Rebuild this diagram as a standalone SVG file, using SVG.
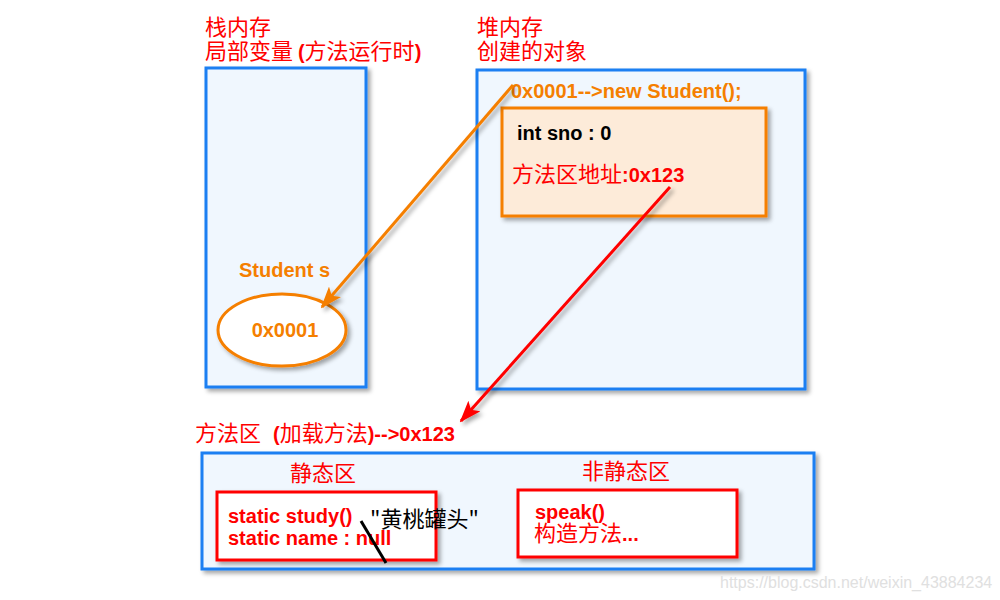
<svg xmlns="http://www.w3.org/2000/svg" width="1000" height="600" viewBox="0 0 1000 600">
<defs>
<filter id="sh" x="-10%" y="-10%" width="130%" height="130%">
<feDropShadow dx="3" dy="3" stdDeviation="2" flood-color="#000" flood-opacity="0.35"/>
</filter>
<marker id="ao" markerWidth="22" markerHeight="16" refX="20" refY="8" orient="auto" markerUnits="userSpaceOnUse">
<path d="M0,0 L22,8 L0,16 L5,8 Z" fill="#f57f00"/>
</marker>
<marker id="ar" markerWidth="22" markerHeight="16" refX="20" refY="8" orient="auto" markerUnits="userSpaceOnUse">
<path d="M0,0 L22,8 L0,16 L5,8 Z" fill="#ff0000"/>
</marker>
</defs>
<style>
.cn{font-family:"Noto Sans CJK SC","Liberation Sans",sans-serif;font-size:22px;}
.b{font-family:"Liberation Sans","Noto Sans CJK SC",sans-serif;font-weight:bold;font-size:20px;}
.red{fill:#ff0000;}
.org{fill:#f57f00;}
.blk{fill:#000;}
.area{fill:#f0f7fe;stroke:#1a7ff2;stroke-width:3;filter:url(#sh);}
.rbox{fill:#fff;stroke:#ff0000;stroke-width:3;filter:url(#sh);}
</style>
<rect width="1000" height="600" fill="#fff"/>

<g id="stack">
<text class="cn red" x="205" y="35">栈内存</text>
<text class="cn red" x="205" y="59">局部变量 <tspan class="b">(</tspan>方法运行时<tspan class="b">)</tspan></text>
<rect class="area" x="206" y="68" width="160" height="319"/>
<text class="b org" x="239" y="277">Student s</text>
</g>

<g id="ref-var">
<ellipse cx="282" cy="330" rx="64" ry="36" fill="#fff" stroke="#f57f00" stroke-width="3" filter="url(#sh)"/>
<text class="b org" x="285" y="337" text-anchor="middle">0x0001</text>
</g>

<g id="heap">
<text class="cn red" x="477" y="35">堆内存</text>
<text class="cn red" x="477" y="59">创建的对象</text>
<rect class="area" x="477" y="70" width="328" height="319"/>
<text class="b org" x="511" y="98">0x0001--&gt;new Student();</text>
</g>

<g id="object">
<rect x="502" y="108" width="264" height="108" fill="#fdebd9" stroke="#f57f00" stroke-width="3" filter="url(#sh)"/>
<text class="b blk" x="517" y="140">int sno : 0</text>
<text class="cn red" x="512" y="182">方法区地址<tspan class="b">:0x123</tspan></text>
</g>

<g id="method-area">
<text class="cn red" x="195" y="441">方法区<tspan class="b" dx="12">(</tspan>加载方法<tspan class="b">)--&gt;0x123</tspan></text>
<rect class="area" x="202" y="453" width="612" height="116"/>
<text class="cn red" x="290" y="481">静态区</text>
<text class="cn red" x="582" y="479">非静态区</text>
</g>

<g id="static">
<rect class="rbox" x="217" y="492" width="219" height="68"/>
<text class="b red" x="228" y="523">static study()</text>
<text class="b red" x="228" y="545">static name : null</text>
<text class="cn blk" x="370" y="527">"黄桃罐头"</text>
</g>

<g id="nonstatic">
<rect class="rbox" x="518" y="490" width="219" height="67"/>
<text class="b red" x="535" y="519">speak()</text>
<text class="cn red" x="534" y="541">构造方法<tspan class="b">...</tspan></text>
</g>

<g id="connectors">
<line x1="513" y1="85" x2="322" y2="307" stroke="#f57f00" stroke-width="3" marker-end="url(#ao)" filter="url(#sh)"/>
<line x1="670" y1="187" x2="461" y2="421" stroke="#ff0000" stroke-width="3" marker-end="url(#ar)" filter="url(#sh)"/>
<line x1="361" y1="521" x2="386" y2="563" stroke="#000" stroke-width="3"/>
</g>

<text x="720" y="588" font-family="Liberation Sans,sans-serif" font-size="16" fill="#e0e0e0">https://blog.csdn.net/weixin_43884234</text>
</svg>
